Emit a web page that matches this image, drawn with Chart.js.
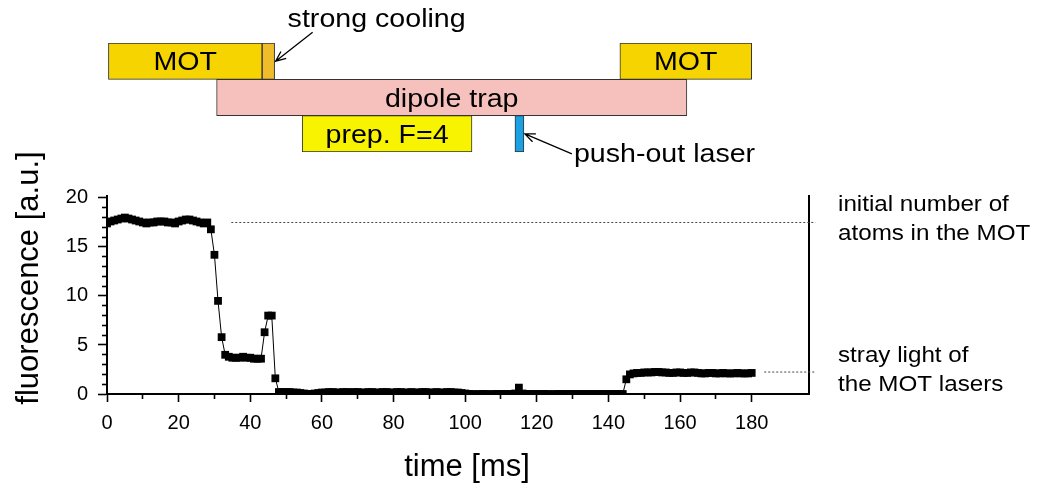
<!DOCTYPE html>
<html>
<head>
<meta charset="utf-8">
<script src="https://cdn.jsdelivr.net/npm/chart.js@4.4.1/dist/chart.umd.min.js"></script>
<style>
  html, body { margin: 0; padding: 0; background: #fff; }
  #wrap { position: relative; width: 1044px; height: 488px; }
  canvas { position: absolute; left: 0; top: 0; }
</style>
</head>
<body>
<div id="wrap">
  <canvas id="dataChart" width="1044" height="488"></canvas>
  <canvas id="timingChart" width="1044" height="175"></canvas>
</div>
<script>
// measured fluorescence, one point per ms
const times = [
  0, 1, 2, 3, 4, 5, 6, 7, 8, 9,
  10, 11, 12, 13, 14, 15, 16, 17, 18, 19,
  20, 21, 22, 23, 24, 25, 26, 27, 28, 29,
  30, 31, 32, 33, 34, 35, 36, 37, 38, 39,
  40, 41, 42, 43, 44, 45, 46, 47, 48, 49,
  50, 51, 52, 53, 54, 55, 56, 57, 58, 59,
  60, 61, 62, 63, 64, 65, 66, 67, 68, 69,
  70, 71, 72, 73, 74, 75, 76, 77, 78, 79,
  80, 81, 82, 83, 84, 85, 86, 87, 88, 89,
  90, 91, 92, 93, 94, 95, 96, 97, 98, 99,
  100, 101, 102, 103, 104, 105, 106, 107, 108, 109,
  110, 111, 112, 113, 114, 115, 116, 117, 118, 119,
  120, 121, 122, 123, 124, 125, 126, 127, 128, 129,
  130, 131, 132, 133, 134, 135, 136, 137, 138, 139,
  140, 141, 142, 143, 144, 145, 146, 147, 148, 149,
  150, 151, 152, 153, 154, 155, 156, 157, 158, 159,
  160, 161, 162, 163, 164, 165, 166, 167, 168, 169,
  170, 171, 172, 173, 174, 175, 176, 177, 178, 179,
  180
];
const fluorescence = [
  17.4, 17.6, 17.7, 17.8, 17.9, 18.0, 17.9, 17.8, 17.7, 17.6,
  17.5, 17.4, 17.5, 17.5, 17.6, 17.6, 17.6, 17.5, 17.5, 17.4,
  17.6, 17.7, 17.8, 17.8, 17.7, 17.6, 17.5, 17.4, 17.5, 16.8,
  14.2, 9.5, 5.8, 4.0, 3.8, 3.7, 3.7, 3.7, 3.8, 3.7,
  3.7, 3.6, 3.6, 3.6, 6.3, 8.0, 8.0, 1.6, 0.2, 0.2,
  0.2, 0.2, 0.15, 0.15, 0.1, 0.05, 0.0, 0.0, 0.05, 0.1,
  0.15, 0.15, 0.2, 0.2, 0.15, 0.15, 0.2, 0.2, 0.15, 0.2,
  0.2, 0.15, 0.15, 0.2, 0.2, 0.15, 0.15, 0.2, 0.2, 0.15,
  0.15, 0.2, 0.2, 0.15, 0.15, 0.2, 0.15, 0.15, 0.2, 0.2,
  0.15, 0.15, 0.2, 0.15, 0.15, 0.2, 0.2, 0.15, 0.15, 0.1,
  0.05, 0.0, 0.0, -0.05, 0.0, 0.0, 0.0, -0.05, 0.0, 0.0,
  0.0, 0.0, 0.0, 0.0, 0.05, 0.65, 0.05, 0.0, 0.0, 0.0,
  0.0, 0.0, 0.0, 0.0, -0.05, 0.0, 0.0, 0.0, 0.0, 0.0,
  0.0, 0.0, 0.0, 0.0, 0.0, 0.0, 0.0, 0.0, 0.0, 0.0,
  0.0, 0.0, 0.0, 0.0, 0.0, 1.5, 2.0, 2.1, 2.15, 2.15,
  2.2, 2.2, 2.2, 2.25, 2.25, 2.2, 2.2, 2.15, 2.15, 2.2,
  2.2, 2.15, 2.15, 2.2, 2.2, 2.15, 2.1, 2.1, 2.15, 2.15,
  2.1, 2.1, 2.15, 2.1, 2.1, 2.1, 2.15, 2.1, 2.1, 2.1,
  2.15
];

// dotted reference levels
const initialLevel = 17.5;
const initialFrom = 34.7;
const strayLevel = 2.24;
const strayFrom = 183.5;
const levelTo = 197.8;

// axes
const xMax = 196;
const yMax = 20.2;
const xMajorTicks = [0, 20, 40, 60, 80, 100, 120, 140, 160, 180];
const xMinorTicks = [10, 30, 50, 70, 90, 110, 130, 150, 170];
const yMajorTicks = [0, 5, 10, 15, 20];
const yMinorTicks = [1, 2, 3, 4, 6, 7, 8, 9, 11, 12, 13, 14, 16, 17, 18, 19];

// timing sequence (ms)
const rows = ['MOT', 'dipole', 'prep'];
const motPeriods = [[0.4, 43.3], [143.2, 180]];
const coolingPeriod = [43.3, 46.8];
const dipolePeriod = [30.6, 161.9];
const prepPeriod = [54.5, 101.9];
const pushOutPeriod = [113.9, 116.4];

const tickFont = { family: '"Liberation Sans", Arial, sans-serif', size: 20 };
const textFamily = '"Liberation Sans", Arial, sans-serif';

function useTicks(list) {
    return scale => { scale.ticks = list.map(v => ({ value: v })); };
}

function drawText(ctx, text, x, y, size, align, sx) {
    ctx.save();
    ctx.translate(x, y);
    ctx.scale(sx || 1, 1);
    ctx.font = size + 'px ' + textFamily;
    ctx.fillStyle = '#000';
    ctx.textAlign = align || 'left';
    ctx.textBaseline = 'alphabetic';
    ctx.fillText(text, 0, 0);
    ctx.restore();
}

function drawArrow(ctx, fromX, fromY, toX, toY) {
    let angle = Math.atan2(toY - fromY, toX - fromX);
    ctx.save();
    ctx.strokeStyle = '#000';
    ctx.lineWidth = 1.3;
    ctx.beginPath();
    ctx.moveTo(fromX, fromY);
    ctx.lineTo(toX, toY);
    ctx.moveTo(toX - 11 * Math.cos(angle - 0.4), toY - 11 * Math.sin(angle - 0.4));
    ctx.lineTo(toX, toY);
    ctx.lineTo(toX - 11 * Math.cos(angle + 0.4), toY - 11 * Math.sin(angle + 0.4));
    ctx.stroke();
    ctx.restore();
}

const dataText = {
    id: 'dataText',
    afterDraw(chart) {
        const ctx = chart.ctx;
        drawText(ctx, 'time [ms]', 467, 476, 31, 'center');
        ctx.save();
        ctx.translate(38, 278);
        ctx.rotate(-Math.PI / 2);
        drawText(ctx, 'fluorescence [a.u.]', 0, 0, 31, 'center');
        ctx.restore();
        drawText(ctx, 'initial number of', 838, 211, 22, 'left', 1.1);
        drawText(ctx, 'atoms in the MOT', 838, 240, 22, 'left', 1.1);
        drawText(ctx, 'stray light of', 838, 362, 22, 'left', 1.1);
        drawText(ctx, 'the MOT lasers', 838, 391, 22, 'left', 1.1);
    }
};

const timingText = {
    id: 'timingText',
    afterDatasetsDraw(chart) {
        const ctx = chart.ctx;
        chart.data.datasets.forEach((ds, i) => {
            chart.getDatasetMeta(i).data.forEach(bar => {
                const tipX = bar.x + 1;
                const tipY = bar.y;
                if (ds.label === 'strong cooling') {
                    drawArrow(ctx, tipX + 37, tipY - 29, tipX, tipY);
                    drawText(ctx, ds.label, tipX + 12, tipY - 34, 26, 'left', 1.1);
                } else if (ds.label === 'push-out laser') {
                    drawArrow(ctx, tipX + 47, tipY + 20, tipX, tipY);
                    drawText(ctx, ds.label, tipX + 49, tipY + 28, 26, 'left', 1.1);
                } else {
                    drawText(ctx, ds.label, (bar.x + bar.base) / 2, bar.y + 9.3, 26, 'center', 1.1);
                }
            });
        });
    }
};

new Chart(document.getElementById('dataChart'), {
    type: 'line',
    data: {
        datasets: [{
            data: times.map((t, i) => ({ x: t, y: fluorescence[i] })),
            borderColor: '#000',
            borderWidth: 1,
            pointStyle: 'rect',
            pointRadius: 5.5,
            pointBackgroundColor: '#000',
            pointBorderWidth: 0,
            tension: 0
        }, {
            data: [{ x: initialFrom, y: initialLevel }, { x: levelTo, y: initialLevel }],
            borderColor: '#444',
            borderWidth: 1,
            borderDash: [2, 2],
            pointRadius: 0,
            clip: false
        }, {
            data: [{ x: strayFrom, y: strayLevel }, { x: levelTo, y: strayLevel }],
            borderColor: '#444',
            borderWidth: 1,
            borderDash: [2, 2],
            pointRadius: 0,
            clip: false
        }]
    },
    options: {
        responsive: false,
        animation: false,
        events: [],
        layout: { padding: { left: 0, top: 196, right: 235, bottom: 0 } },
        plugins: { legend: { display: false }, tooltip: { enabled: false } },
        scales: {
            x: {
                type: 'linear', position: 'bottom', weight: 1, min: 0, max: xMax,
                afterFit: s => { s.height = 94; },
                afterBuildTicks: useTicks(xMajorTicks),
                grid: { drawOnChartArea: false, tickLength: 8, tickWidth: 1.6, tickColor: '#000' },
                border: { color: '#000', width: 2 },
                ticks: { font: tickFont, color: '#000', padding: 9, autoSkip: false, maxRotation: 0 }
            },
            xMinor: {
                type: 'linear', position: 'bottom', weight: 0, min: 0, max: xMax,
                afterFit: s => { s.height = 0; },
                afterBuildTicks: useTicks(xMinorTicks),
                grid: { drawOnChartArea: false, tickLength: 5, tickWidth: 1.6, tickColor: '#000' },
                border: { display: false },
                ticks: { display: false }
            },
            y: {
                type: 'linear', position: 'left', weight: 1, min: 0, max: yMax,
                afterFit: s => { s.width = 107; },
                afterBuildTicks: useTicks(yMajorTicks),
                grid: { drawOnChartArea: false, tickLength: 9, tickWidth: 1.6, tickColor: '#000' },
                border: { color: '#000', width: 2 },
                ticks: { font: tickFont, color: '#000', padding: 10 }
            },
            yMinor: {
                type: 'linear', position: 'left', weight: 0, min: 0, max: yMax,
                afterFit: s => { s.width = 0; },
                afterBuildTicks: useTicks(yMinorTicks),
                grid: { drawOnChartArea: false, tickLength: 5, tickWidth: 1.6, tickColor: '#000' },
                border: { display: false },
                ticks: { display: false }
            },
            yRight: {
                type: 'linear', position: 'right', min: 0, max: yMax,
                afterFit: s => { s.width = 0; },
                grid: { display: false },
                border: { color: '#000', width: 2 },
                ticks: { display: false }
            }
        }
    },
    plugins: [dataText]
});

new Chart(document.getElementById('timingChart'), {
    type: 'bar',
    data: {
        labels: rows,
        datasets: [
            { label: 'MOT', data: motPeriods.map(p => ({ x: p, y: 'MOT' })), backgroundColor: '#f6d400' },
            { label: 'strong cooling', data: [{ x: coolingPeriod, y: 'MOT' }], backgroundColor: '#efbd2a' },
            { label: 'dipole trap', data: [{ x: dipolePeriod, y: 'dipole' }], backgroundColor: '#f6c0bc' },
            { label: 'prep. F=4', data: [{ x: prepPeriod, y: 'prep' }], backgroundColor: '#f8f300' },
            { label: 'push-out laser', data: [{ x: pushOutPeriod, y: 'prep' }], backgroundColor: '#1ba1e2' }
        ]
    },
    options: {
        indexAxis: 'y',
        responsive: false,
        animation: false,
        events: [],
        layout: { padding: { left: 107, right: 235, top: 43, bottom: 23 } },
        datasets: {
            bar: {
                grouped: false,
                barPercentage: 1,
                categoryPercentage: 1,
                borderWidth: 1,
                borderColor: '#333',
                borderSkipped: false
            }
        },
        plugins: { legend: { display: false }, tooltip: { enabled: false } },
        scales: {
            x: { type: 'linear', min: 0, max: xMax, display: false },
            y: { type: 'category', display: false }
        }
    },
    plugins: [timingText]
});
</script>
</body>
</html>
